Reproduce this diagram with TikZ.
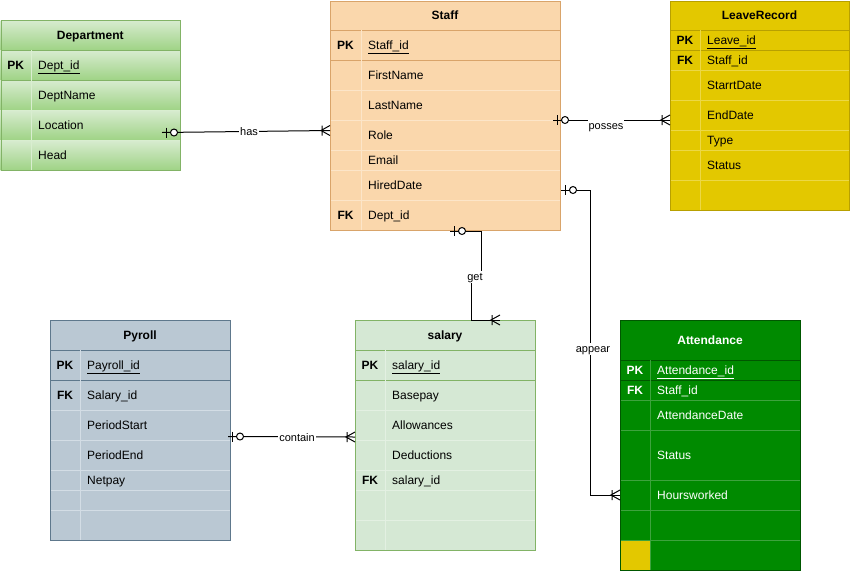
\documentclass[tikz,border=0pt]{standalone}
\usepackage{fontspec}
\setmainfont{Liberation Sans}
\usetikzlibrary{calc}

% table palettes
\definecolor{deptTop}{HTML}{D8ECD0}
\definecolor{deptBot}{HTML}{9FD386}
\definecolor{deptEdge}{HTML}{82B366}
\definecolor{deptSep}{HTML}{D9EED0}
\definecolor{staffFill}{HTML}{FAD7AC}
\definecolor{staffEdge}{HTML}{D9A46A}
\definecolor{staffSep}{HTML}{FCE5C8}
\definecolor{leaveFill}{HTML}{E3C800}
\definecolor{leaveEdge}{HTML}{B8A000}
\definecolor{leaveSep}{HTML}{ECD846}
\definecolor{payFill}{HTML}{BAC8D3}
\definecolor{payEdge}{HTML}{5E788C}
\definecolor{paySep}{HTML}{D3DDE5}
\definecolor{salFill}{HTML}{D5E8D4}
\definecolor{salEdge}{HTML}{82B366}
\definecolor{salSep}{HTML}{E3F0E2}
\definecolor{attFill}{HTML}{008A00}
\definecolor{attEdge}{HTML}{005700}
\definecolor{attSep}{HTML}{3DA33D}

% \ertable{name}{left}{top}{right}{bottom}{key divider x}{title}{style prefix}{rows top/bottom/key/field}
\newcommand\ertable[9]{%
  \foreach \rt/\rb/\rk/\rf [count=\ri] in {#9} {
    \ifnum\ri=1 \path[#8head] (#2,#3) rectangle (#4,\rt); \fi
    \path[#8cell] (#2,\rt) rectangle (#4,\rb);
  }
  \foreach \rt/\rb/\rk/\rf [count=\ri] in {#9} {
    \ifnum\ri=1
      \node[titletxt,#8text] (#1-title) at ({(#2+#4)/2},{(#3+\rt)/2+4.5}) {#7};
      \draw[#8edge] (#2,\rt) -- (#4,\rt) (#2,\rb) -- (#4,\rb);
    \else
      \draw[#8sep] (#2,\rb) -- (#4,\rb);
    \fi
    \draw[#8sep] (#6,\rt) -- (#6,\rb);
    \node[keytxt,#8text] (#1-k\ri) at ({(#2+#6)/2},{(\rt+\rb)/2+4.5}) {\rk};
    \node[fieldtxt,#8text] (#1-f\ri) at (#6+7,{(\rt+\rb)/2+4.5}) {\rf};
  }
  \node[#8edge, fill=none, inner sep=0pt, minimum width={#4-#2}, minimum height={#5-#3},
        anchor=north west] (#1) at (#2,#3) {};
}

\tikzset{
  erline/.style={draw=black, line width=1pt},
  keytxt/.style={inner sep=0pt, anchor=base, font=\fontsize{12}{14}\selectfont\bfseries},
  fieldtxt/.style={inner sep=0pt, anchor=base west, font=\fontsize{12}{14}\selectfont},
  titletxt/.style={inner sep=0pt, anchor=base, font=\fontsize{12}{14}\selectfont\bfseries},
  lbl/.style={fill=white, inner sep=1pt, text height=8pt, text depth=2pt,
              font=\fontsize{11}{13}\selectfont},
  depthead/.style={top color=deptTop, bottom color=deptBot},
  deptcell/.style={top color=deptTop, bottom color=deptBot},
  deptedge/.style={draw=deptEdge, line width=1pt},
  deptsep/.style={draw=deptSep, line width=1pt},
  depttext/.style={text=black},
  staffhead/.style={fill=staffFill},
  staffcell/.style={fill=staffFill},
  staffedge/.style={draw=staffEdge, line width=1pt},
  staffsep/.style={draw=staffSep, line width=1pt},
  stafftext/.style={text=black},
  leavehead/.style={fill=leaveFill},
  leavecell/.style={fill=leaveFill},
  leaveedge/.style={draw=leaveEdge, line width=1pt},
  leavesep/.style={draw=leaveSep, line width=1pt},
  leavetext/.style={text=black},
  payhead/.style={fill=payFill},
  paycell/.style={fill=payFill},
  payedge/.style={draw=payEdge, line width=1pt},
  paysep/.style={draw=paySep, line width=1pt},
  paytext/.style={text=black},
  salhead/.style={fill=salFill},
  salcell/.style={fill=salFill},
  saledge/.style={draw=salEdge, line width=1pt},
  salsep/.style={draw=salSep, line width=1pt},
  saltext/.style={text=black},
  atthead/.style={fill=attFill},
  attcell/.style={fill=attFill},
  attedge/.style={draw=attEdge, line width=1pt},
  attsep/.style={draw=attSep, line width=1pt},
  atttext/.style={text=white},
  % zero-or-one marker, pointing away from the entity along +x
  zeroone/.pic={
    \draw[erline] (0,0) -- (4,0) (4,-5) -- (4,5);
    \draw[erline, fill=white] (12,0) circle[radius=3.5];
  },
  % one-or-many crow's foot, entity at the origin on the +x side
  manyend/.pic={
    \draw[erline] (-8,-5) -- (-8,5) (0,-5) -- (-9,0) -- (0,5);
  },
}

\begin{document}
\begin{tikzpicture}[x=1pt, y=-1pt]
\useasboundingbox (0,0) rectangle (851,571);
\fill[white] (0,0) rectangle (851,571);

\ertable{dept}{0.5}{20}{180}{170}{31}{Department}{dept}{
  50/80/PK/{\underline{Dept\_id}},
  80/110/{}/DeptName,
  110/140/{}/Location,
  140/170/{}/Head}

\ertable{staff}{330}{0.5}{560}{230}{361}{Staff}{staff}{
  30/60/PK/{\underline{Staff\_id}},
  60/90/{}/FirstName,
  90/120/{}/LastName,
  120/150/{}/Role,
  150/170/{}/Email,
  170/200/{}/HiredDate,
  200/230/FK/{Dept\_id}}

\ertable{leave}{670}{0.5}{849}{210}{700}{LeaveRecord}{leave}{
  30/50/PK/{\underline{Leave\_id}},
  50/70/FK/{Staff\_id},
  70/100/{}/StarrtDate,
  100/130/{}/EndDate,
  130/150/{}/Type,
  150/180/{}/Status,
  180/210/{}/{}}

\ertable{pay}{50}{320}{230}{540}{80}{Pyroll}{pay}{
  350/380/PK/{\underline{Payroll\_id}},
  380/410/FK/{Salary\_id},
  410/440/{}/PeriodStart,
  440/470/{}/PeriodEnd,
  470/490/{}/Netpay,
  490/510/{}/{},
  510/540/{}/{}}

\ertable{sal}{355}{320}{535}{550}{385}{salary}{sal}{
  350/380/PK/{\underline{salary\_id}},
  380/410/{}/Basepay,
  410/440/{}/Allowances,
  440/470/{}/Deductions,
  470/490/FK/{salary\_id},
  490/520/{}/{},
  520/550/{}/{}}

\ertable{att}{620}{320}{800}{570}{650}{Attendance}{att}{
  360/380/PK/{\underline{Attendance\_id}},
  380/400/FK/{Staff\_id},
  400/430/{}/AttendanceDate,
  430/480/{}/Status,
  480/510/{}/Hoursworked,
  510/540/{}/{},
  540/570/{}/{}}
% highlighted key cell in the last attendance row
\node[fill=leaveFill, inner sep=0pt, minimum width=29, minimum height=29,
      anchor=north west] (att-mark) at (620.5,540.5) {};

% relationship end points
\coordinate (has-a)  at (162,132.5);
\coordinate (has-b)  at (staff.west |- 0,130.5);
\coordinate (pos-a)  at (553,120);
\coordinate (pos-b)  at (leave.west |- 0,120);
\coordinate (get-a)  at (450,231);
\coordinate (get-b)  at (sal.north |- 0,320);
\coordinate (get-b)  at (500,320);
\coordinate (app-a)  at (561,190);
\coordinate (app-b)  at (att.west |- 0,495);
\coordinate (con-a)  at (228,436.5);
\coordinate (con-b)  at (sal.west |- 0,437);

% Department -- Staff
\draw[erline] (has-a) -- (has-b);
\pic at (has-a) {zeroone};
\pic at (has-b) {manyend};
\node[lbl] (has-l) at (249,132) {has};

% Staff -- LeaveRecord
\draw[erline] (pos-a) -- (pos-b);
\pic at (pos-a) {zeroone};
\pic at (pos-b) {manyend};
\node[lbl] (pos-l) at (606,126) {posses};

% Staff -- salary
\draw[erline] (get-a) -- ++(31,0) -- ++(0,46) -- ++(-10,0) |- (get-b);
\pic at (get-a) {zeroone};
\pic at (get-b) {manyend};
\node[lbl] (get-l) at (475,277) {get};

% Staff -- Attendance
\draw[erline] (app-a) -- ++(29,0) |- (app-b);
\pic at (app-a) {zeroone};
\pic at (app-b) {manyend};
\node[lbl] (app-l) at (593,349) {appear};

% Pyroll -- salary
\draw[erline] (con-a) -- (con-b);
\pic at (con-a) {zeroone};
\pic at (con-b) {manyend};
\node[lbl] (con-l) at (297,438) {contain};
\end{tikzpicture}
\end{document}
